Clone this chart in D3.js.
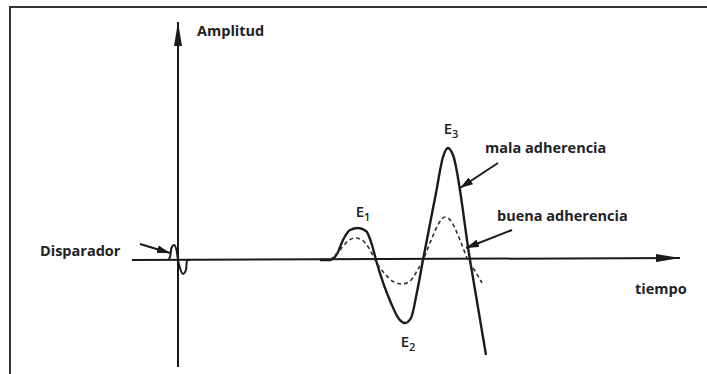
<!DOCTYPE html>
<html>
<head>
<meta charset="utf-8">
<script src="https://cdn.jsdelivr.net/npm/d3@7"></script>
<style>
  body { margin: 0; background: #fff; }
  text { font-family: "Open Sans", sans-serif; font-weight: 700; fill: #222; }
</style>
</head>
<body>
<svg width="707" height="374"></svg>
<script>
const svg = d3.select("svg");
const width = +svg.attr("width");
const height = +svg.attr("height");

// time (arbitrary units) and amplitude
const triggerTime = [-2, -1.6, -1.3, -0.8, -0.3, 0, 0.4, 1, 1.6, 1.8, 2.4];
const triggerAmp = [0, 0.03, 0.12, 0.15, 0.1, 0, -0.08, -0.14, -0.1, 0, 0];

const malaTime = [28.4, 30.4, 31.8, 33, 34.4, 36, 37.6, 38.8, 39.6, 42.6, 44.2, 45.4, 46.6, 47.8, 49, 51.6, 53, 54, 55, 58.4, 61.6];
const malaAmp = [0, 0, 0.06, 0.2, 0.3, 0.32, 0.29, 0.15, 0, -0.43, -0.59, -0.63, -0.58, -0.32, 0, 0.67, 1.03, 1.12, 1.05, 0, -0.95];

const buenaTime = [30.4, 32.4, 34, 35.4, 36.8, 38.4, 39.4, 41.4, 43.2, 44.8, 46.4, 47.8, 49, 50.8, 52.2, 53.4, 54.6, 56.4, 58, 59.4, 60.8];
const buenaAmp = [0, 0.1, 0.19, 0.22, 0.2, 0.1, 0, -0.14, -0.22, -0.24, -0.21, -0.11, 0, 0.22, 0.37, 0.43, 0.39, 0.2, 0, -0.11, -0.23];

const echoLabels = ["1", "2", "3"];
const echoTime = [36, 45, 53.6];
const echoAmp = [0.32, -0.63, 1.12];

const axisLabels = ["Amplitud", "tiempo"];
const seriesLabels = ["mala adherencia", "buena adherencia"];
const triggerLabel = "Disparador";

const x = d3.scaleLinear().domain([-9.2, 100.4]).range([132, 680]);
const y = d3.scaleLinear().domain([-1.07, 2.38]).range([367, 22]);

const ink = "#1a1a1a";

// frame (top and left edges only)
svg.append("path")
  .attr("d", `M10,${height} L10,7 L${width},7`)
  .attr("fill", "none")
  .attr("stroke", "#333")
  .attr("stroke-width", 2);

const defs = svg.append("defs");
const marker = (id, len, half) => {
  defs.append("marker")
    .attr("id", id)
    .attr("viewBox", `0 ${-half} ${len} ${half * 2}`)
    .attr("refX", len)
    .attr("refY", 0)
    .attr("markerUnits", "userSpaceOnUse")
    .attr("markerWidth", len)
    .attr("markerHeight", half * 2)
    .attr("orient", "auto")
    .append("path")
    .attr("d", `M0,${-half}L${len},0L0,${half}Z`)
    .attr("fill", ink);
};
marker("axisHead", 24, 4);
marker("noteHead", 13, 4);

// axes
svg.append("line")
  .attr("x1", x(0)).attr("y1", y(-1.07))
  .attr("x2", x(0)).attr("y2", y(2.38))
  .attr("stroke", ink).attr("stroke-width", 2)
  .attr("marker-end", "url(#axisHead)");

svg.append("line")
  .attr("x1", x(-9.2)).attr("y1", y(0))
  .attr("x2", x(100.4)).attr("y2", y(0) - 2)
  .attr("stroke", ink).attr("stroke-width", 2)
  .attr("marker-end", "url(#axisHead)");

const line = d3.line()
  .x((d) => x(d[0]))
  .y((d) => y(d[1]))
  .curve(d3.curveMonotoneX);

svg.append("path")
  .attr("d", line(d3.zip(triggerTime, triggerAmp)))
  .attr("fill", "none").attr("stroke", ink).attr("stroke-width", 2);

svg.append("path")
  .attr("d", line(d3.zip(malaTime, malaAmp)))
  .attr("fill", "none").attr("stroke", ink).attr("stroke-width", 2.4);

svg.append("path")
  .attr("d", line(d3.zip(buenaTime, buenaAmp)))
  .attr("fill", "none").attr("stroke", "#333").attr("stroke-width", 1.6)
  .attr("stroke-dasharray", "4,3");

// echo labels E1, E2, E3
const echoOffset = [-11, 24, -14];
echoLabels.forEach((n, i) => {
  const t = svg.append("text")
    .attr("x", x(echoTime[i]) + 5)
    .attr("y", y(echoAmp[i]) + echoOffset[i])
    .attr("font-size", 15)
    .attr("text-anchor", "middle")
    .style("font-weight", 600);
  t.append("tspan").text("E");
  t.append("tspan").attr("font-size", 11).attr("dy", 4).text(n);
});

// axis titles
svg.append("text").attr("x", 197).attr("y", 36).attr("font-size", 14.5).text(axisLabels[0]);
svg.append("text").attr("x", 635).attr("y", 294).attr("font-size", 14.5).text(axisLabels[1]);

// annotations
const notes = [
  { label: triggerLabel, tx: 40, ty: 256, from: [140, 244], to: [x(-1.6), y(0.07)] },
  { label: seriesLabels[0], tx: 485, ty: 153, from: [498, 163], to: [x(56.4), y(0.72)] },
  { label: seriesLabels[1], tx: 497, ty: 221, from: [512, 230], to: [x(57.6), y(0.12)] },
];

notes.forEach((n) => {
  svg.append("text").attr("x", n.tx).attr("y", n.ty).attr("font-size", 14.5).text(n.label);
  svg.append("line")
    .attr("x1", n.from[0]).attr("y1", n.from[1])
    .attr("x2", n.to[0]).attr("y2", n.to[1])
    .attr("stroke", ink).attr("stroke-width", 2)
    .attr("marker-end", "url(#noteHead)");
});
</script>
</body>
</html>
